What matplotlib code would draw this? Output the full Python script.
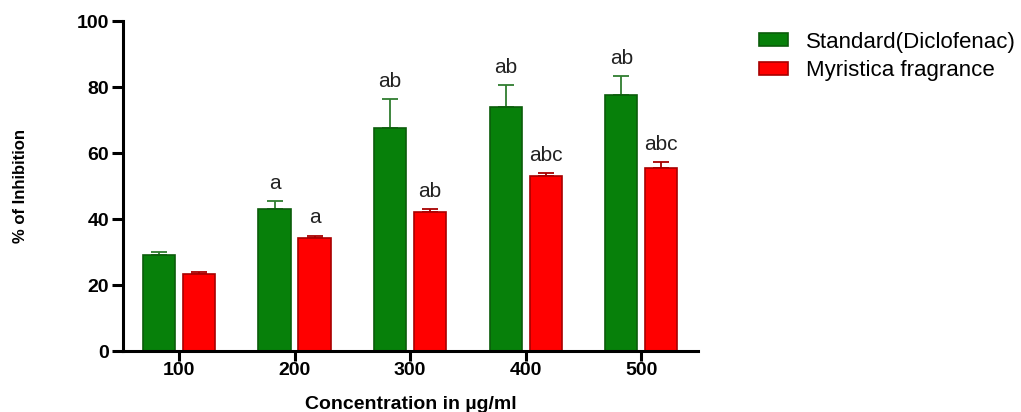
import numpy as np
import matplotlib.pyplot as plt

plt.rcParams["font.family"] = ["Liberation Sans", "DejaVu Sans"]

conc = ["100", "200", "300", "400", "500"]
standard = [29.1, 43.1, 67.7, 74.0, 77.5]
standard_err = [1.0, 2.4, 8.7, 6.5, 5.8]
myristica = [23.2, 34.2, 42.1, 53.1, 55.5]
myristica_err = [0.8, 0.8, 0.8, 0.7, 1.7]
standard_lbl = ["", "a", "ab", "ab", "ab"]
myristica_lbl = ["", "a", "ab", "abc", "abc"]

fig = plt.figure(figsize=(10.21, 4.12), dpi=100)
ax = fig.add_axes([0.1205, 0.148, 0.563, 0.801])

x = np.arange(len(conc))
w = 0.28
off = 0.173

b1 = ax.bar(x - off, standard, w, color="#07800a", edgecolor="#0b5c0b", linewidth=1.2,
            label="Standard(Diclofenac)", zorder=2)
b2 = ax.bar(x + off, myristica, w, color="#ff0000", edgecolor="#a80000", linewidth=1.2,
            label="Myristica fragrance", zorder=2)
ax.errorbar(x - off, standard, yerr=[np.zeros(5), standard_err], fmt="none",
            ecolor="#2f7d2f", elinewidth=1.3, capsize=6, capthick=1.3, zorder=1)
ax.errorbar(x + off, myristica, yerr=[np.zeros(5), myristica_err], fmt="none",
            ecolor="#a80000", elinewidth=1.3, capsize=6, capthick=1.3, zorder=1)

for i in range(len(conc)):
    if standard_lbl[i]:
        ax.text(x[i] - off, standard[i] + standard_err[i] + 2.5, standard_lbl[i],
                ha="center", va="bottom", fontsize=15, color="#222222")
    if myristica_lbl[i]:
        ax.text(x[i] + off, myristica[i] + myristica_err[i] + 2.5, myristica_lbl[i],
                ha="center", va="bottom", fontsize=15, color="#222222")

ax.set_xlim(-0.485, 4.49)
ax.set_ylim(0, 100)
ax.set_xticks(x)
ax.set_xticklabels(conc, fontsize=14, fontweight="bold")
ax.set_yticks([0, 20, 40, 60, 80, 100])
ax.set_yticklabels(["0", "20", "40", "60", "80", "100"], fontsize=14, fontweight="bold")
ax.tick_params(axis="y", length=8, width=2.2, pad=2)
ax.tick_params(axis="x", length=7, width=2.2, pad=1)
for s in ["top", "right"]:
    ax.spines[s].set_visible(False)
for s in ["left", "bottom"]:
    ax.spines[s].set_linewidth(2.2)

ax.set_xlabel("Concentration in µg/ml", fontsize=14, fontweight="bold", labelpad=12)
ax.set_ylabel("% of Inhibition", fontsize=12, fontweight="bold", labelpad=35)

fig.legend(handles=[b1, b2], loc="upper left", bbox_to_anchor=(0.724, 0.972),
           frameon=False, fontsize=16, handlelength=1.3, handleheight=0.5,
           handletextpad=0.8, labelspacing=0.35)

plt.savefig("out.png", dpi=100)
